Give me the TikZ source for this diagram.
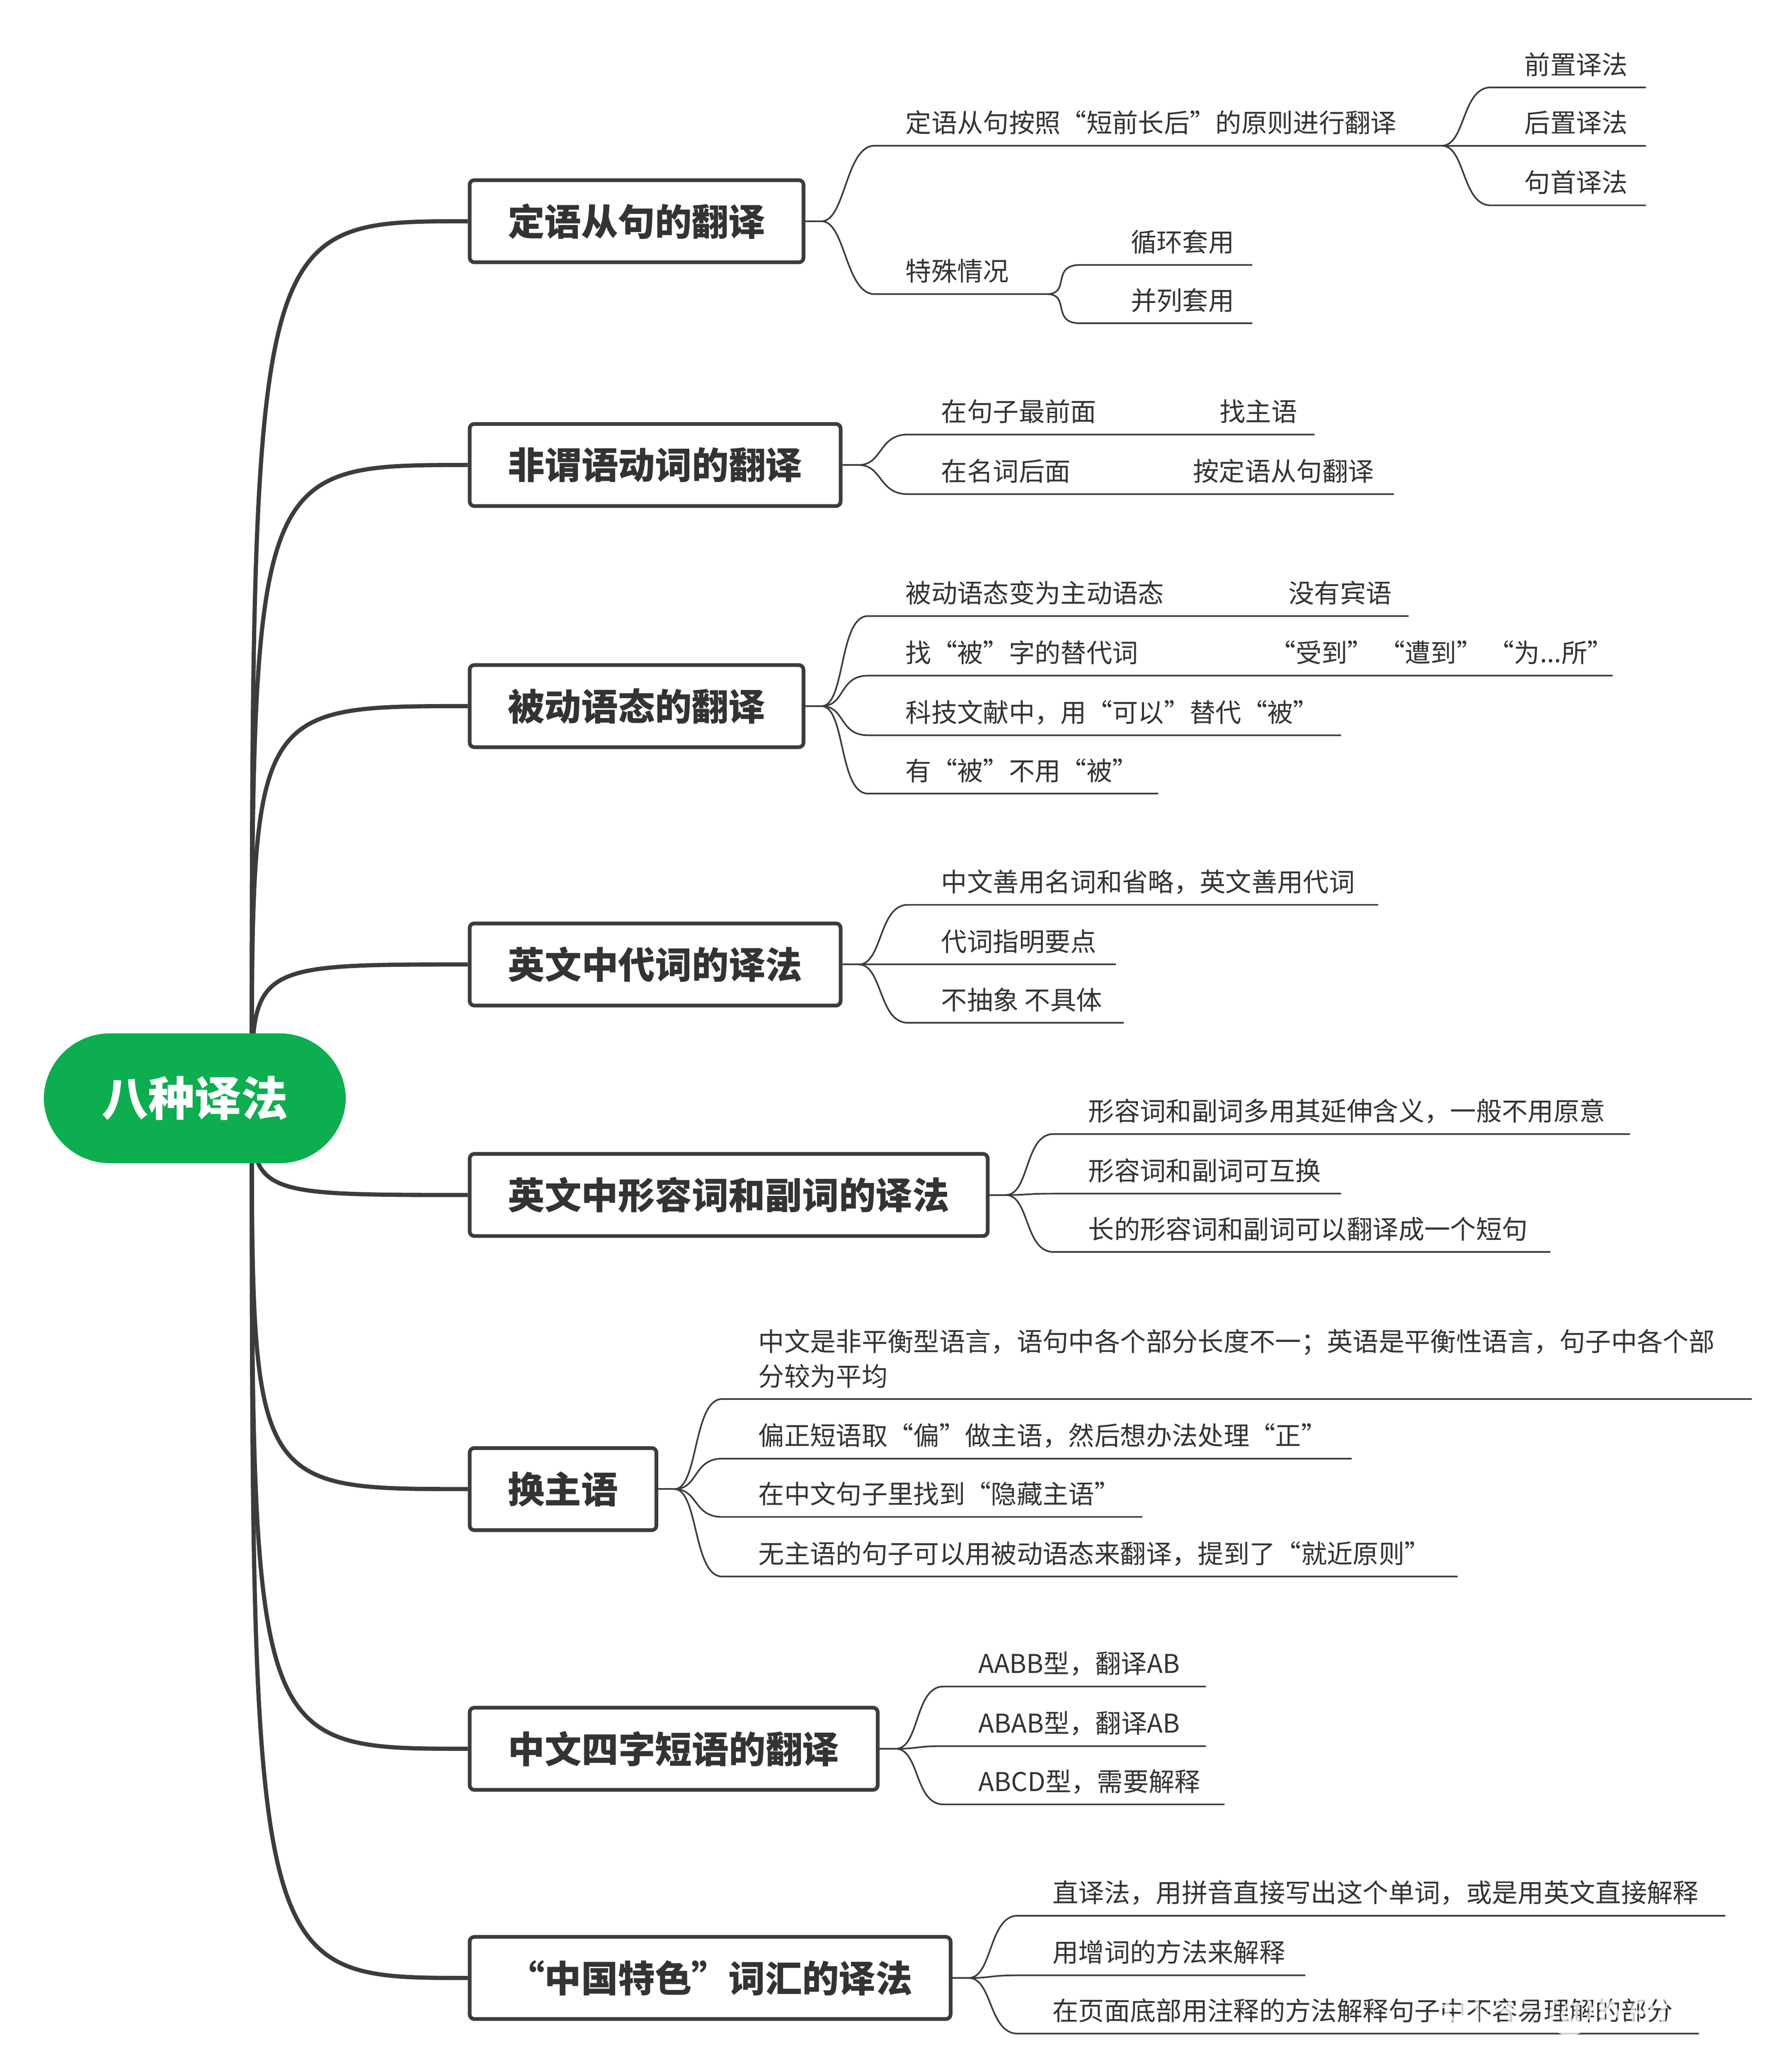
\documentclass[tikz,border=0pt]{standalone}
\usepackage{fontspec}
\setmainfont{Noto Sans CJK SC}
\usetikzlibrary{calc}
\definecolor{rootgreen}{HTML}{0DAE4F}
\definecolor{linegray}{HTML}{3C3C3C}
\definecolor{txtgray}{HTML}{333333}
\tikzset{
  topic/.style={draw=linegray,line width=1.6pt,rounded corners=2pt,fill=white,
    font=\fontsize{15.8}{18}\selectfont\bfseries,text=txtgray,anchor=west,
    minimum height=1.24cm,inner xsep=0.55cm},
  leaf/.style={anchor=base west,font=\fontsize{11.1}{14}\selectfont,text=txtgray,inner sep=0pt},
  branch/.style={draw=linegray,line width=1.8pt},
  twig/.style={draw=linegray,line width=0.7pt},
}
\begin{document}
\begin{tikzpicture}[x=0.02cm,y=-0.02cm]
\useasboundingbox (0,0) rectangle (1350,1564);

% boîtes principales
\node[topic,minimum width=5.04cm] (t1) at (353,167) {定语从句的翻译};
\node[topic,minimum width=5.6cm] (t2) at (353,351) {非谓语动词的翻译};
\node[topic,minimum width=5.04cm] (t3) at (353,533) {被动语态的翻译};
\node[topic,minimum width=5.6cm] (t4) at (353,728) {英文中代词的译法};
\node[topic,minimum width=7.82cm] (t5) at (353,902) {英文中形容词和副词的译法};
\node[topic,minimum width=2.82cm] (t6) at (353,1124) {换主语};
\node[topic,minimum width=6.16cm] (t7) at (353,1320) {中文四字短语的翻译};
\node[topic,minimum width=7.26cm] (t8) at (353,1493) {“中国特色”词汇的译法};

% branches depuis la racine
\coordinate (rt) at (190,829);
\foreach \t/\y in {t1/167,t2/351,t3/533,t4/728,t5/902,t6/1124,t7/1320,t8/1493}
  \draw[branch] (rt) .. controls (190,\y) .. (\t.west);

\node[fill=rootgreen,rounded corners=1.0cm,minimum width=4.56cm,minimum height=1.96cm,
  text=white,font=\fontsize{20}{24}\selectfont\bfseries] (root) at (147,829) {八种译法};

% macro feuille : parent, x debut, y ligne, x fin
\newcommand{\leafline}[4]{\draw[twig] (#1) .. controls ($(#1)+(18,0)$) and ($(#2,#3)+(-22,0)$) .. (#2,#3) -- (#4,#3);}

% 1 définitions
\coordinate (p1) at (620,167);
\draw[twig] (t1.east) -- (p1);
\leafline{p1}{660}{110}{1088}
\node[leaf] (l11) at (683,100) {定语从句按照“短前长后”的原则进行翻译};
\coordinate (p11) at (1088,110);
\leafline{p11}{1125}{66}{1242}
\leafline{p11}{1125}{110}{1242}
\leafline{p11}{1125}{155}{1242}
\node[leaf] (l111) at (1150,56) {前置译法};
\node[leaf] (l112) at (1150,100) {后置译法};
\node[leaf] (l113) at (1150,145) {句首译法};
\leafline{p1}{660}{222}{790}
\node[leaf] (l12) at (683,212) {特殊情况};
\coordinate (p12) at (790,222);
\leafline{p12}{815}{200}{945}
\leafline{p12}{815}{244}{945}
\node[leaf] (l121) at (853,190) {循环套用};
\node[leaf] (l122) at (853,234) {并列套用};

% 2
\coordinate (p2) at (648,351);
\draw[twig] (t2.east) -- (p2);
\leafline{p2}{685}{328}{992}
\leafline{p2}{685}{373}{1052}
\node[leaf] (l21) at (710,318) {在句子最前面};
\node[leaf] (l211) at (920,318) {找主语};
\node[leaf] (l22) at (710,363) {在名词后面};
\node[leaf] (l221) at (900,363) {按定语从句翻译};

% 3
\coordinate (p3) at (620,533);
\draw[twig] (t3.east) -- (p3);
\leafline{p3}{655}{465}{1063}
\leafline{p3}{655}{510}{1217}
\leafline{p3}{655}{555}{1012}
\leafline{p3}{655}{599}{874}
\node[leaf] (l31) at (683,455) {被动语态变为主动语态};
\node[leaf] (l311) at (972,455) {没有宾语};
\node[leaf] (l32) at (683,500) {找“被”字的替代词};
\node[leaf] (l321) at (958,500) {“受到”\ “遭到”\ “为...所”};
\node[leaf] (l33) at (683,545) {科技文献中，用“可以”替代“被”};
\node[leaf] (l34) at (683,589) {有“被”不用“被”};

% 4
\coordinate (p4) at (648,728);
\draw[twig] (t4.east) -- (p4);
\leafline{p4}{685}{683}{1040}
\leafline{p4}{685}{728}{842}
\leafline{p4}{685}{772}{848}
\node[leaf] (l41) at (710,673) {中文善用名词和省略，英文善用代词};
\node[leaf] (l42) at (710,718) {代词指明要点};
\node[leaf] (l43) at (710,762) {不抽象 不具体};

% 5
\coordinate (p5) at (759,902);
\draw[twig] (t5.east) -- (p5);
\leafline{p5}{795}{856}{1230}
\leafline{p5}{795}{901}{1012}
\leafline{p5}{795}{945}{1170}
\node[leaf] (l51) at (821,846) {形容词和副词多用其延伸含义，一般不用原意};
\node[leaf] (l52) at (821,891) {形容词和副词可互换};
\node[leaf] (l53) at (821,935) {长的形容词和副词可以翻译成一个短句};

% 6
\coordinate (p6) at (509,1124);
\draw[twig] (t6.east) -- (p6);
\leafline{p6}{545}{1056}{1322}
\leafline{p6}{545}{1101}{1020}
\leafline{p6}{545}{1145}{862}
\leafline{p6}{545}{1190}{1100}
\node[leaf] (l61) at (572,1020) {中文是非平衡型语言，语句中各个部分长度不一；英语是平衡性语言，句子中各个部};
\node[leaf] (l61b) at (572,1046) {分较为平均};
\node[leaf] (l62) at (572,1091) {偏正短语取“偏”做主语，然后想办法处理“正”};
\node[leaf] (l63) at (572,1135) {在中文句子里找到“隐藏主语”};
\node[leaf] (l64) at (572,1180) {无主语的句子可以用被动语态来翻译，提到了“就近原则”};

% 7
\coordinate (p7) at (676,1320);
\draw[twig] (t7.east) -- (p7);
\leafline{p7}{712}{1273}{910}
\leafline{p7}{712}{1318}{910}
\leafline{p7}{712}{1362}{924}
\node[leaf] (l71) at (738,1263) {AABB型，翻译AB};
\node[leaf] (l72) at (738,1308) {ABAB型，翻译AB};
\node[leaf] (l73) at (738,1352) {ABCD型，需要解释};

% 8
\coordinate (p8) at (731,1493);
\draw[twig] (t8.east) -- (p8);
\leafline{p8}{768}{1446}{1302}
\leafline{p8}{768}{1491}{985}
\leafline{p8}{768}{1535}{1282}
\node[leaf] (l81) at (794,1436) {直译法，用拼音直接写出这个单词，或是用英文直接解释};
\node[leaf] (l82) at (794,1481) {用增词的方法来解释};
\node[leaf] (l83) at (794,1525) {在页面底部用注释的方法解释句子中不容易理解的部分};

% filigrane
\node[anchor=base west,font=\fontsize{22}{26}\selectfont,text=white,opacity=0.75] (wm) at (1075,1530) {知乎 @Kerrrr};
\end{tikzpicture}
\end{document}
